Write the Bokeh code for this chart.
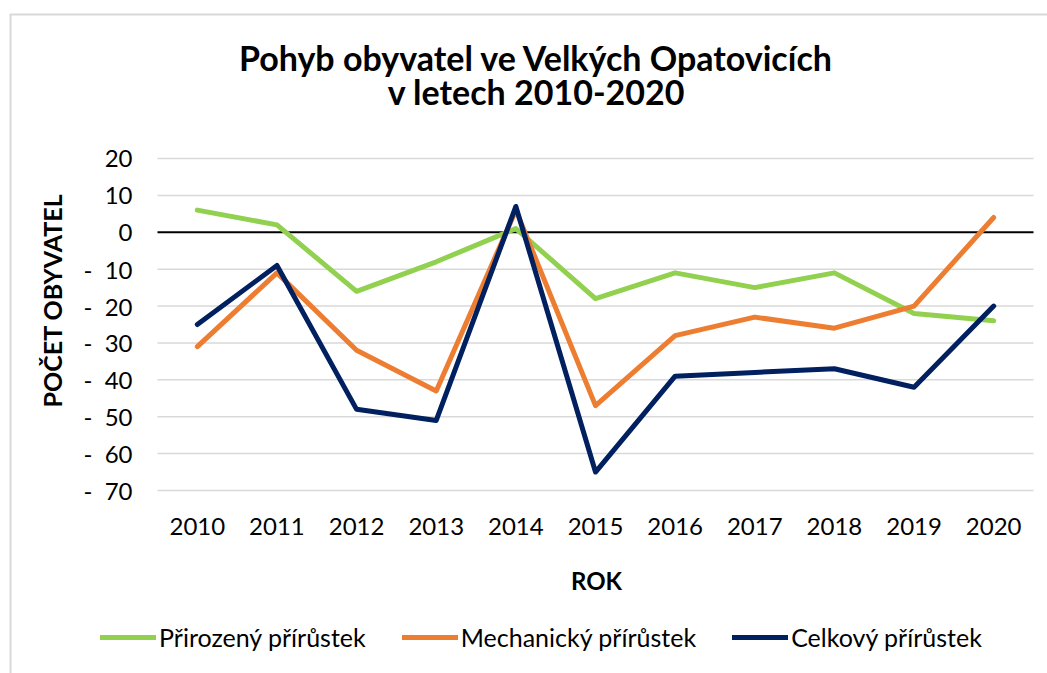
import math
from bokeh.plotting import figure
from bokeh.models import Legend, LegendItem, Range1d, Label
from bokeh.core.properties import value
from bokeh.embed import file_html
from bokeh.resources import INLINE

# ---- data ----
years = ["2010", "2011", "2012", "2013", "2014", "2015",
         "2016", "2017", "2018", "2019", "2020"]
prirozeny = [6, 2, -16, -8, 1, -18, -11, -15, -11, -22, -24]
mechanicky = [-31, -11, -32, -43, 6, -47, -28, -23, -26, -20, 4]
celkovy = [-25, -9, -48, -51, 7, -65, -39, -38, -37, -42, -20]

series_names = ["Přirozený přírůstek", "Mechanický přírůstek", "Celkový přírůstek"]
series_colors = ["#92D050", "#ED7D31", "#002060"]

y_ticks = [-70, -60, -50, -40, -30, -20, -10, 0, 10, 20]
y_tick_labels = [("-\u00a0\u00a0" + str(abs(t))) if t < 0 else str(t) for t in y_ticks]

title_lines = ["Pohyb obyvatel ve Velkých Opatovicích", "v letech 2010-2020"]
x_title = "ROK"
y_title = "POČET OBYVATEL"

# ---- layout (pixels) ----
FONT = "Lato"
W, H = 1047, 673
PL, PR, PT, PB = 157, 1033, 158, 490          # plot area
x_vals = [int(y) for y in years]
Y_MIN, Y_MAX = y_ticks[0], y_ticks[-1]
xpx = (PR - PL) / len(years)
ypx = (PB - PT) / (Y_MAX - Y_MIN)
x_lo = x_vals[0] - 0.5 - PL / xpx
x_hi = x_vals[-1] + 0.5 + (W - PR) / xpx
y_hi = Y_MAX + PT / ypx
y_lo = Y_MIN - (H - PB) / ypx

def dx(px):
    return x_lo + px / xpx

def dy(py):
    return y_hi - py / ypx

p = figure(
    x_range=Range1d(x_lo, x_hi), y_range=Range1d(y_lo, y_hi),
    width=W, height=H, min_border=0,
    x_axis_location=None, y_axis_location=None, title_location=None,
    output_backend="svg", toolbar_location=None,
)
p.outline_line_color = None
p.background_fill_color = "white"
p.border_fill_color = "white"
p.grid.visible = False

# chart border (light grey, left and top)
p.segment(x0=[dx(10), dx(9)], y0=[dy(14), dy(14)], x1=[dx(10), dx(W)], y1=[dy(H), dy(14)],
          line_color="#D9D9D9", line_width=2)

# horizontal grid lines and zero line
x_first, x_last = x_vals[0] - 0.5, x_vals[-1] + 0.5
grid_y = [t for t in y_ticks if t != 0]
p.segment(x0=[x_first] * len(grid_y), x1=[x_last] * len(grid_y), y0=grid_y, y1=grid_y,
          line_color="#D9D9D9", line_width=1.5)
p.segment(x0=[x_first], x1=[x_last], y0=[0], y1=[0], line_color="black", line_width=2)

# y tick labels
p.text(x=[x_first] * len(y_ticks), y=y_ticks, text=y_tick_labels,
       x_offset=-25, text_align="right", text_baseline="middle",
       text_font=value(FONT), text_font_size="24px", text_color="#000000")
# x tick labels
p.text(x=x_vals, y=[Y_MIN] * len(x_vals), text=years,
       y_offset=36, text_align="center", text_baseline="alphabetic",
       text_font=value(FONT), text_font_size="24px", text_color="#000000")

# series
items = []
for name, vals, col in zip(series_names, [prirozeny, mechanicky, celkovy], series_colors):
    r = p.line(x_vals, vals, line_color=col, line_width=5,
               line_cap="round", line_join="round")
    items.append(LegendItem(label=name, renderers=[r]))

legend = Legend(items=items, orientation="horizontal", location=(100, 21),
                glyph_width=56, glyph_height=20, label_standoff=3, spacing=36,
                padding=0, margin=0, border_line_color=None,
                background_fill_alpha=0,
                label_text_font=FONT, label_text_font_size="25px",
                label_text_color="#000000")
p.add_layout(legend, "center")

# titles
def lab(text, px, py, size, baseline="alphabetic", angle=0.0):
    p.add_layout(Label(x=dx(px), y=dy(py), text=text, text_align="center",
                       text_baseline=baseline, angle=angle,
                       text_font=FONT, text_font_style="bold", text_font_size=size,
                       text_color="#000000"))

lab(title_lines[0], 536, 57.3, "34px")
lab(title_lines[1], 536, 90.7, "34px")
lab(x_title, 596, 580, "24px")
lab(y_title, 51, 300, "25px", baseline="middle", angle=math.pi / 2)

open("out.html", "w").write(file_html(p, INLINE))
